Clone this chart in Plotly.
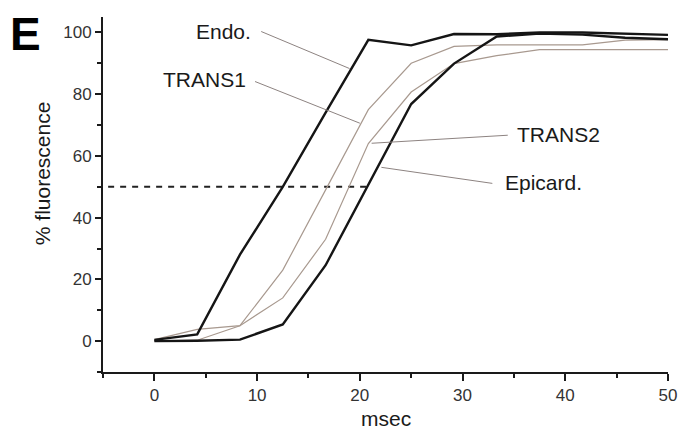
import plotly.graph_objects as go

# time samples (msec)
msec = [0, 4.17, 8.33, 12.5, 16.67, 20.83, 25, 29.17, 33.33, 37.5, 41.67, 45.83, 50]

endo = [0.4, 2.2, 28, 50, 74, 97.6, 95.8, 99.5, 99.4, 100, 100, 99.5, 99.2]
trans1 = [0.5, 3.8, 5.0, 23, 49, 75, 90, 95.5, 96, 96, 96, 97.5, 97.7]
trans2 = [0.0, 0.3, 5.0, 14, 33, 64, 80.7, 89.9, 92.5, 94.4, 94.4, 94.4, 94.4]
epicard = [0.0, 0.1, 0.5, 5.4, 24.6, 50.5, 76.8, 89.9, 98.7, 99.6, 99.3, 98.3, 97.8]

series_names = ["Endo.", "TRANS1", "TRANS2", "Epicard."]
threshold = 50
threshold_x = [-4.5, 20.6]

x_ticks = [0, 10, 20, 30, 40, 50]
y_ticks = [0, 20, 40, 60, 80, 100]

# label positions and leader lines (data coords)
label_pos = {
    "Endo.": (9.6, 100.2, "right"),
    "TRANS1": (9.1, 84.6, "right"),
    "TRANS2": (35.1, 67.0, "left"),
    "Epicard.": (33.9, 51.4, "left"),
}
leaders = {
    "Endo.": ((10.4, 100.3), (19.0, 88.3)),
    "TRANS1": ((9.8, 84.1), (20.0, 70.6)),
    "TRANS2": ((34.4, 66.7), (21.15, 64.1)),
    "Epicard.": ((32.9, 51.1), (22.1, 56.3)),
}

THICK = "#151515"
THIN = "#a8998f"
LEAD = "#8d8381"
FONT = "Liberation Sans, Arial, sans-serif"

fig = go.Figure()

fig.add_trace(go.Scatter(x=threshold_x, y=[threshold, threshold], mode="lines",
                         line=dict(color="#222222", width=2, dash="6px,6px"),
                         showlegend=False, hoverinfo="skip"))

for name, ys, col, w in [("TRANS2", trans2, THIN, 1.2), ("TRANS1", trans1, THIN, 1.2),
                         ("Epicard.", epicard, THICK, 2.4), ("Endo.", endo, THICK, 2.4)]:
    fig.add_trace(go.Scatter(x=msec, y=ys, mode="lines", name=name,
                             line=dict(color=col, width=w), showlegend=False))

for name, ((x0, y0), (x1, y1)) in leaders.items():
    fig.add_trace(go.Scatter(x=[x0, x1], y=[y0, y1], mode="lines",
                             line=dict(color=LEAD, width=1), showlegend=False,
                             hoverinfo="skip"))

for name in series_names:
    lx, ly, anc = label_pos[name]
    fig.add_annotation(x=lx, y=ly, text=name, showarrow=False, xanchor=anc,
                       yanchor="middle", font=dict(family=FONT, size=21, color="#1a1a1a"))

# Panel letter
fig.add_annotation(xref="paper", yref="paper", x=-0.168, y=1.03, text="<b>E</b>",
                   showarrow=False, xanchor="left", yanchor="top",
                   font=dict(family=FONT, size=46, color="#000000"))

# axis titles as annotations
fig.add_annotation(xref="paper", yref="paper", x=0.5, y=-0.13, text="msec",
                   showarrow=False, xanchor="center", yanchor="middle",
                   font=dict(family=FONT, size=21, color="#1a1a1a"))
fig.add_annotation(xref="paper", yref="paper", x=-0.108, y=0.56, text="% fluorescence",
                   textangle=-90, showarrow=False, xanchor="center", yanchor="middle",
                   font=dict(family=FONT, size=21, color="#1a1a1a"))

fig.update_layout(
    width=678, height=430,
    margin=dict(l=103, r=10, t=17, b=58, autoexpand=False),
    paper_bgcolor="white", plot_bgcolor="white",
    font=dict(family=FONT, size=17, color="#333333"),
    xaxis=dict(range=[-5, 50], tickvals=x_ticks, showline=True, linecolor="#1a1a1a",
               linewidth=2, ticks="outside", ticklen=7, tickwidth=2, tickcolor="#1a1a1a",
               showgrid=False, zeroline=False, automargin=False,
               minor=dict(dtick=5, tick0=-5, ticks="outside", ticklen=4, tickwidth=2,
                          tickcolor="#1a1a1a", showgrid=False),
               tickfont=dict(size=17, color="#333333")),
    yaxis=dict(range=[-10, 105], tickvals=y_ticks, showline=True, linecolor="#1a1a1a",
               linewidth=2, ticks="outside", ticklen=6, tickwidth=2, tickcolor="#1a1a1a",
               showgrid=False, zeroline=False, automargin=False,
               minor=dict(dtick=10, tick0=-10, ticks="outside", ticklen=4, tickwidth=2,
                          tickcolor="#1a1a1a", showgrid=False),
               tickfont=dict(size=17, color="#333333")),
)

fig.write_html("out.html", config={"displayModeBar": False},
               post_script="document.body.style.margin='0';document.body.style.overflow='hidden';")
